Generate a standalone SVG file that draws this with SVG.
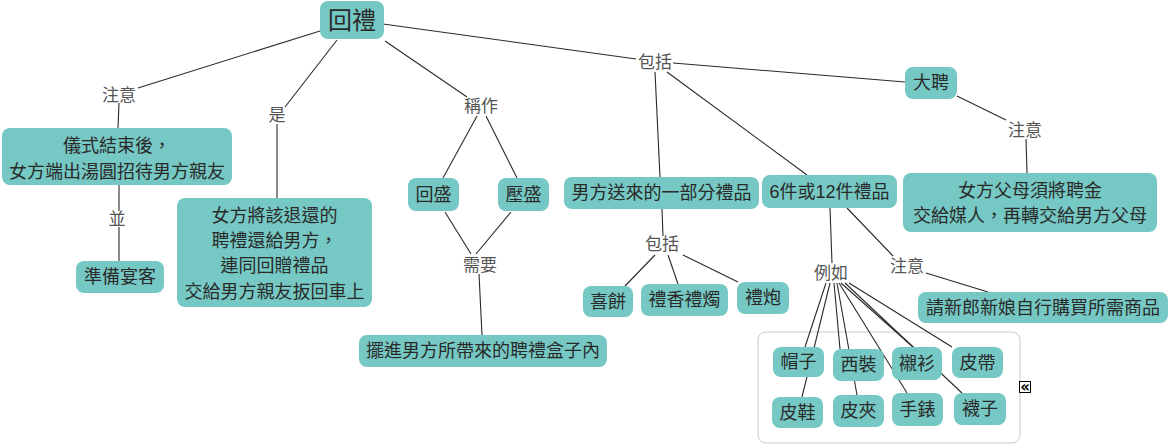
<svg xmlns="http://www.w3.org/2000/svg" width="1170" height="445" viewBox="0 0 1170 445">
<style>
.n rect{fill:#75C8C3;stroke:none}
.n text{font-family:"Liberation Sans","Noto Sans CJK TC",sans-serif;font-size:18px;fill:#2a2a2a;text-anchor:middle;dominant-baseline:central}
.l text{font-family:"Liberation Sans","Noto Sans CJK TC",sans-serif;font-size:17px;fill:#555555;text-anchor:middle;dominant-baseline:central}
#connectors line{stroke:#2a2a2a;stroke-width:1.1;fill:none}
</style>
<rect width="1170" height="445" fill="#ffffff"/>
<rect x="758" y="332" width="262" height="111" rx="8" fill="none" stroke="#c8c8c8" stroke-width="1"/>
<g id="connectors">
<line x1="320" y1="31" x2="138" y2="88"/>
<line x1="119" y1="103" x2="118" y2="128"/>
<line x1="119" y1="185" x2="119" y2="211"/>
<line x1="119" y1="227" x2="119" y2="261"/>
<line x1="337" y1="40" x2="285" y2="107"/>
<line x1="277" y1="124" x2="277" y2="198"/>
<line x1="385" y1="41" x2="467" y2="97"/>
<line x1="477" y1="116" x2="443" y2="178"/>
<line x1="486" y1="116" x2="517" y2="178"/>
<line x1="445" y1="212" x2="471" y2="254"/>
<line x1="511" y1="212" x2="476" y2="254"/>
<line x1="479" y1="274" x2="482" y2="335"/>
<line x1="383" y1="24" x2="636" y2="59"/>
<line x1="673" y1="63" x2="905" y2="82"/>
<line x1="957" y1="96" x2="1006" y2="120"/>
<line x1="1026" y1="139" x2="1027" y2="173"/>
<line x1="655" y1="72" x2="660" y2="177"/>
<line x1="667" y1="72" x2="807" y2="175"/>
<line x1="662" y1="209" x2="663" y2="236"/>
<line x1="655" y1="255" x2="625" y2="286"/>
<line x1="668" y1="255" x2="678" y2="284"/>
<line x1="683" y1="255" x2="738" y2="282"/>
<line x1="830" y1="208" x2="832" y2="263"/>
<line x1="847" y1="208" x2="893" y2="256"/>
<line x1="926" y1="273" x2="988" y2="292"/>
<line x1="826" y1="283" x2="805" y2="347"/>
<line x1="830" y1="283" x2="802" y2="397"/>
<line x1="834" y1="283" x2="840" y2="349"/>
<line x1="837" y1="283" x2="857" y2="395"/>
<line x1="839" y1="283" x2="907" y2="393"/>
<line x1="841" y1="283" x2="913" y2="347"/>
<line x1="845" y1="283" x2="962" y2="393"/>
<line x1="849" y1="283" x2="952" y2="347"/>
</g>
<g class="l">
<g id="lbl-zhuyi1"><text x="119" y="95">注意</text></g>
<g id="lbl-shi"><text x="277" y="115">是</text></g>
<g id="lbl-chengzuo"><text x="481" y="106">稱作</text></g>
<g id="lbl-xuyao"><text x="480" y="265">需要</text></g>
<g id="lbl-bing"><text x="117" y="219">並</text></g>
<g id="lbl-baokuo1"><text x="655" y="62">包括</text></g>
<g id="lbl-zhuyi2"><text x="1025" y="130">注意</text></g>
<g id="lbl-baokuo2"><text x="662" y="244">包括</text></g>
<g id="lbl-liru"><text x="831" y="273">例如</text></g>
<g id="lbl-zhuyi3"><text x="907" y="266">注意</text></g>
</g>
<g class="n">
<g id="huili"><rect x="320" y="1" width="64" height="38" rx="8"/><text x="352" y="20" style="font-size:24px">回禮</text></g>
<g id="yishi"><rect x="2" y="128" width="230" height="57" rx="8"/><text x="117" y="146">儀式結束後，</text><text x="117" y="172">女方端出湯圓招待男方親友</text></g>
<g id="zhunbei"><rect x="76" y="261" width="88" height="32" rx="8"/><text x="120" y="277">準備宴客</text></g>
<g id="nvfang"><rect x="177" y="198" width="195" height="109" rx="8"/><text x="274.5" y="216">女方將該退還的</text><text x="274.5" y="241">聘禮還給男方，</text><text x="274.5" y="266">連同回贈禮品</text><text x="274.5" y="292">交給男方親友扳回車上</text></g>
<g id="huisheng"><rect x="408" y="178" width="51" height="33" rx="8"/><text x="433.5" y="194.5">回盛</text></g>
<g id="yasheng"><rect x="498" y="178" width="51" height="33" rx="8"/><text x="523.5" y="194.5">壓盛</text></g>
<g id="baijin"><rect x="359" y="335" width="248" height="32" rx="8"/><text x="483" y="351">擺進男方所帶來的聘禮盒子內</text></g>
<g id="dapin"><rect x="905" y="67" width="52" height="32" rx="8"/><text x="931" y="83">大聘</text></g>
<g id="fumu"><rect x="903" y="173" width="254" height="59" rx="8"/><text x="1030" y="191">女方父母須將聘金</text><text x="1030" y="216">交給媒人，再轉交給男方父母</text></g>
<g id="nanfang"><rect x="564" y="177" width="195" height="32" rx="8"/><text x="661.5" y="193">男方送來的一部分禮品</text></g>
<g id="liujian"><rect x="762" y="175" width="135" height="33" rx="8"/><text x="829.5" y="191.5">6件或12件禮品</text></g>
<g id="xibing"><rect x="583" y="286" width="50" height="31" rx="8"/><text x="608" y="301.5">喜餅</text></g>
<g id="lixiang"><rect x="641" y="284" width="87" height="32" rx="8"/><text x="684.5" y="300">禮香禮燭</text></g>
<g id="lipao"><rect x="737" y="282" width="52" height="32" rx="8"/><text x="763" y="298">禮炮</text></g>
<g id="qing"><rect x="918" y="292" width="250" height="31" rx="8"/><text x="1043" y="307.5">請新郎新娘自行購買所需商品</text></g>
<g id="maozi"><rect x="773" y="347" width="51" height="30" rx="8"/><text x="798.5" y="362">帽子</text></g>
<g id="xizhuang"><rect x="833" y="349" width="51" height="32" rx="8"/><text x="858.5" y="365">西裝</text></g>
<g id="chenshan"><rect x="892" y="347" width="50" height="33" rx="8"/><text x="917" y="363.5">襯衫</text></g>
<g id="pidai"><rect x="952" y="347" width="51" height="31" rx="8"/><text x="977.5" y="362.5">皮帶</text></g>
<g id="pixie"><rect x="772" y="397" width="51" height="31" rx="8"/><text x="797.5" y="412.5">皮鞋</text></g>
<g id="pijia"><rect x="833" y="395" width="51" height="32" rx="8"/><text x="858.5" y="411">皮夾</text></g>
<g id="shoubiao"><rect x="892" y="393" width="51" height="33" rx="8"/><text x="917.5" y="409.5">手錶</text></g>
<g id="wazi"><rect x="954" y="393" width="52" height="32" rx="8"/><text x="980" y="409">襪子</text></g>
</g>
<g id="collapse"><rect x="1019.5" y="381.5" width="11" height="11" fill="#ffffff" stroke="#000000" stroke-width="1"/><text x="1025" y="387" style="font-family:'DejaVu Sans',sans-serif;font-size:15px;font-weight:bold;fill:#000;text-anchor:middle;dominant-baseline:central">«</text></g>
</svg>
